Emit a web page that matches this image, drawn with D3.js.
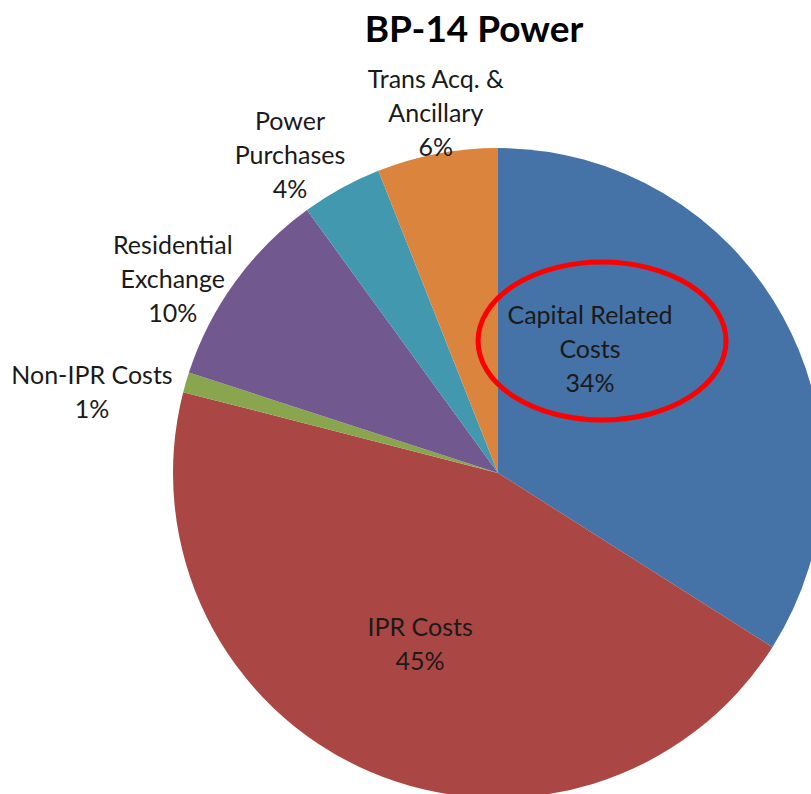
<!DOCTYPE html>
<html><head><meta charset="utf-8">
<script src="https://cdn.jsdelivr.net/npm/d3@7"></script>
<style>html,body{margin:0;padding:0;background:#fff;overflow:hidden}</style>
</head><body>
<svg id="chart" width="811" height="794"></svg>
<script>
const title = "BP-14 Power";
const categories = ["Capital Related Costs", "IPR Costs", "Non-IPR Costs", "Residential Exchange", "Power Purchases", "Trans Acq. & Ancillary"];
const labelLines = [["Capital Related", "Costs"], ["IPR Costs"], ["Non-IPR Costs"], ["Residential", "Exchange"], ["Power", "Purchases"], ["Trans Acq. &", "Ancillary"]];
const values = [34, 45, 1, 10, 4, 6];
const colors = ["#4572A7", "#AA4643", "#89A54E", "#71588F", "#4198AF", "#DB843D"];

// layout (label placement in polar terms: degrees clockwise from top, radius factor)
const labelLayout = [[36.6, 0.475], [204.5, 0.578], [281.3, 1.274], [300.8, 1.165], [326.8, 1.169], [350.2, 1.124]];

const svg = d3.select("#chart");
const cx = 498, cy = 473, R = 325;
const font = "Lato, 'Open Sans', sans-serif";

svg.append("text").attr("x", 474).attr("y", 42).attr("text-anchor", "middle")
  .attr("font-family", font).attr("font-weight", "bold").attr("font-size", 37)
  .attr("fill", "#000").text(title);

const pie = d3.pie().sort(null).value(d => d)(values);
const arc = d3.arc().innerRadius(0).outerRadius(R);
const g = svg.append("g").attr("transform", `translate(${cx},${cy})`);
g.selectAll("path").data(pie).join("path").attr("d", arc).attr("fill", (d, i) => colors[i]);

const lineH = 34;
const total = d3.sum(values);
labelLayout.forEach((lp, i) => {
  const a = lp[0] * Math.PI / 180, r = lp[1] * R;
  const x = Math.sin(a) * r, y = -Math.cos(a) * r;
  const lines = labelLines[i].concat([Math.round(values[i] / total * 100) + "%"]);
  const y0 = y - (lines.length - 1) * lineH / 2;
  const t = g.append("text").attr("text-anchor", "middle").attr("font-family", font)
    .attr("font-size", 25).attr("fill", "#1a1a1a");
  lines.forEach((s, k) => t.append("tspan").attr("x", x).attr("y", y0 + k * lineH).attr("dy", "0.35em").text(s));
  if (i === 0) {
    g.append("ellipse").attr("cx", x + 12).attr("cy", y - 8).attr("rx", 124).attr("ry", 79)
      .attr("fill", "none").attr("stroke", "#FF0000").attr("stroke-width", 5);
  }
});
</script>
</body></html>
